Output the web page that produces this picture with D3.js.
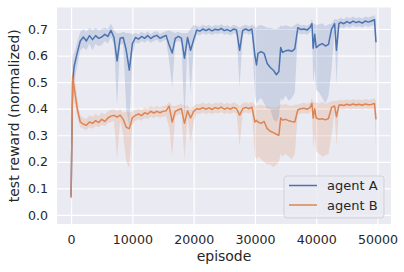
<!DOCTYPE html>
<html>
<head>
<meta charset="utf-8">
<script src="https://cdn.jsdelivr.net/npm/d3@7"></script>
<style>
  body { margin: 0; background: #fff; }
  svg { display: block; font-family: "DejaVu Sans", sans-serif; }
</style>
</head>
<body>
<svg id="chart" width="404" height="272"></svg>
<script>
// episodes at which the test reward was recorded
const episodes = [0, 250, 500, 1000, 1500, 2000, 2500, 3000, 3500, 4000, 4500, 5000, 5500, 6000, 6500, 7000, 7500, 8000, 8500, 9000,
  9500, 10000, 10500, 11000, 11500, 12000, 12500, 13000, 13500, 14000, 14500, 15000, 15500, 16000, 16500, 17000, 17500, 18000, 18500, 19000,
  19500, 20000, 20500, 21000, 21500, 22000, 22500, 23000, 23500, 24000, 24500, 25000, 25500, 26000, 26500, 27000, 27500, 28000, 28500, 29000,
  29500, 30000, 30250, 30500, 31000, 31500, 32000, 32500, 33000, 33500, 33900, 34200, 34500, 35000, 35500, 36000, 36500, 37000, 37500, 38000,
  38500, 39000, 39300, 39500, 39750, 40000, 40500, 41000, 41500, 42000, 42500, 43000, 43300, 43700, 44000, 44500, 45000, 45500, 46000, 46500,
  47000, 47500, 48000, 48500, 49000, 49500, 49750];

// agent A: mean and confidence band
const agentAMean = [0.07, 0.50, 0.56, 0.61, 0.655, 0.67, 0.655, 0.675, 0.66, 0.675, 0.665, 0.67, 0.68, 0.672, 0.695, 0.668, 0.58, 0.665, 0.668, 0.62,
  0.545, 0.645, 0.668, 0.662, 0.672, 0.665, 0.675, 0.664, 0.672, 0.676, 0.665, 0.671, 0.676, 0.64, 0.61, 0.665, 0.672, 0.666, 0.59, 0.668,
  0.62, 0.66, 0.696, 0.692, 0.70, 0.694, 0.70, 0.693, 0.699, 0.696, 0.702, 0.694, 0.698, 0.692, 0.70, 0.696, 0.62, 0.695, 0.70, 0.694,
  0.70, 0.60, 0.565, 0.608, 0.615, 0.608, 0.57, 0.555, 0.545, 0.528, 0.54, 0.63, 0.612, 0.618, 0.62, 0.616, 0.625, 0.705, 0.698, 0.70,
  0.696, 0.706, 0.72, 0.628, 0.68, 0.63, 0.64, 0.645, 0.636, 0.642, 0.70, 0.72, 0.62, 0.72, 0.725, 0.72, 0.728, 0.722, 0.73, 0.724,
  0.728, 0.722, 0.73, 0.726, 0.73, 0.735, 0.65];
const agentALow = [0.0, 0.40, 0.50, 0.56, 0.62, 0.63, 0.62, 0.645, 0.62, 0.645, 0.635, 0.64, 0.655, 0.645, 0.67, 0.64, 0.41, 0.64, 0.645, 0.40,
  0.33, 0.60, 0.65, 0.645, 0.655, 0.648, 0.658, 0.648, 0.655, 0.66, 0.648, 0.655, 0.66, 0.58, 0.48, 0.648, 0.655, 0.648, 0.36, 0.65,
  0.46, 0.63, 0.68, 0.676, 0.684, 0.678, 0.684, 0.677, 0.683, 0.68, 0.686, 0.678, 0.682, 0.676, 0.684, 0.68, 0.48, 0.678, 0.684, 0.678,
  0.684, 0.45, 0.42, 0.43, 0.44, 0.42, 0.40, 0.40, 0.36, 0.35, 0.37, 0.44, 0.43, 0.45, 0.43, 0.44, 0.46, 0.685, 0.68, 0.682,
  0.678, 0.688, 0.70, 0.50, 0.55, 0.47, 0.46, 0.44, 0.42, 0.45, 0.55, 0.70, 0.49, 0.70, 0.708, 0.703, 0.71, 0.705, 0.713, 0.707,
  0.71, 0.705, 0.712, 0.708, 0.712, 0.715, 0.49];
const agentAHigh = [0.14, 0.60, 0.61, 0.65, 0.69, 0.70, 0.69, 0.705, 0.695, 0.705, 0.695, 0.70, 0.705, 0.70, 0.72, 0.695, 0.685, 0.685, 0.69, 0.685,
  0.685, 0.68, 0.685, 0.68, 0.69, 0.682, 0.692, 0.68, 0.69, 0.692, 0.682, 0.688, 0.692, 0.695, 0.69, 0.685, 0.69, 0.684, 0.685, 0.685,
  0.70, 0.715, 0.712, 0.708, 0.716, 0.71, 0.716, 0.709, 0.715, 0.712, 0.718, 0.71, 0.714, 0.708, 0.716, 0.712, 0.705, 0.712, 0.716, 0.71,
  0.716, 0.71, 0.705, 0.712, 0.715, 0.71, 0.705, 0.705, 0.70, 0.70, 0.705, 0.712, 0.71, 0.714, 0.71, 0.708, 0.715, 0.722, 0.714, 0.716,
  0.712, 0.72, 0.738, 0.72, 0.72, 0.715, 0.718, 0.722, 0.71, 0.718, 0.72, 0.738, 0.735, 0.738, 0.742, 0.737, 0.745, 0.74, 0.747, 0.741,
  0.745, 0.739, 0.747, 0.743, 0.747, 0.752, 0.74];

// agent B: mean and confidence band
const agentBMean = [0.065, 0.52, 0.48, 0.40, 0.35, 0.342, 0.338, 0.35, 0.345, 0.355, 0.348, 0.36, 0.352, 0.365, 0.372, 0.375, 0.368, 0.376, 0.36, 0.33,
  0.325, 0.366, 0.375, 0.38, 0.374, 0.385, 0.38, 0.39, 0.384, 0.39, 0.385, 0.39, 0.392, 0.41, 0.35, 0.39, 0.396, 0.40, 0.345, 0.392,
  0.365, 0.39, 0.40, 0.398, 0.404, 0.398, 0.403, 0.397, 0.404, 0.40, 0.406, 0.398, 0.403, 0.398, 0.405, 0.40, 0.376, 0.40, 0.405, 0.40,
  0.406, 0.35, 0.356, 0.35, 0.345, 0.352, 0.325, 0.315, 0.31, 0.304, 0.30, 0.365, 0.357, 0.36, 0.355, 0.352, 0.35, 0.396, 0.40, 0.402,
  0.398, 0.404, 0.42, 0.365, 0.40, 0.365, 0.36, 0.362, 0.358, 0.363, 0.405, 0.41, 0.37, 0.413, 0.415, 0.412, 0.417, 0.413, 0.418, 0.414,
  0.417, 0.413, 0.418, 0.415, 0.416, 0.42, 0.36];
const agentBLow = [0.03, 0.46, 0.43, 0.37, 0.33, 0.325, 0.32, 0.33, 0.325, 0.335, 0.33, 0.34, 0.335, 0.345, 0.35, 0.355, 0.21, 0.355, 0.30, 0.20,
  0.18, 0.34, 0.355, 0.36, 0.355, 0.365, 0.36, 0.37, 0.365, 0.372, 0.366, 0.37, 0.372, 0.33, 0.22, 0.372, 0.378, 0.38, 0.21, 0.374,
  0.27, 0.35, 0.382, 0.38, 0.386, 0.38, 0.385, 0.38, 0.386, 0.382, 0.388, 0.38, 0.385, 0.38, 0.387, 0.382, 0.26, 0.382, 0.387, 0.382,
  0.388, 0.22, 0.21, 0.22, 0.21, 0.20, 0.19, 0.19, 0.18, 0.19, 0.20, 0.23, 0.22, 0.23, 0.22, 0.21, 0.23, 0.378, 0.382, 0.384,
  0.38, 0.386, 0.40, 0.25, 0.30, 0.24, 0.23, 0.22, 0.225, 0.23, 0.30, 0.39, 0.26, 0.395, 0.398, 0.395, 0.40, 0.396, 0.40, 0.397,
  0.40, 0.396, 0.40, 0.398, 0.398, 0.40, 0.25];
const agentBHigh = [0.12, 0.59, 0.54, 0.44, 0.375, 0.365, 0.362, 0.375, 0.37, 0.38, 0.372, 0.385, 0.378, 0.39, 0.395, 0.398, 0.39, 0.398, 0.385, 0.39,
  0.385, 0.39, 0.396, 0.40, 0.395, 0.405, 0.40, 0.41, 0.404, 0.41, 0.405, 0.41, 0.412, 0.425, 0.41, 0.41, 0.415, 0.42, 0.41, 0.412,
  0.40, 0.41, 0.42, 0.417, 0.423, 0.417, 0.422, 0.416, 0.423, 0.42, 0.425, 0.417, 0.422, 0.417, 0.424, 0.42, 0.41, 0.42, 0.424, 0.42,
  0.425, 0.415, 0.41, 0.412, 0.415, 0.41, 0.41, 0.405, 0.405, 0.405, 0.41, 0.418, 0.415, 0.418, 0.412, 0.41, 0.415, 0.416, 0.42, 0.422,
  0.418, 0.424, 0.44, 0.425, 0.425, 0.422, 0.42, 0.425, 0.418, 0.423, 0.428, 0.43, 0.43, 0.432, 0.434, 0.431, 0.436, 0.432, 0.437, 0.433,
  0.436, 0.432, 0.437, 0.434, 0.435, 0.44, 0.43];

const xTicks = [0, 10000, 20000, 30000, 40000, 50000];
const yTicks = [0.0, 0.1, 0.2, 0.3, 0.4, 0.5, 0.6, 0.7];
const seriesNames = ["agent A", "agent B"];
const seriesColors = ["#4c72b0", "#dd8452"];

const svg = d3.select("#chart");
const plot = { left: 57, right: 391, top: 7.5, bottom: 224 };

const x = d3.scaleLinear().domain([-2300, 52200]).range([plot.left, plot.right]);
const y = d3.scaleLinear().domain([-0.034, 0.781]).range([plot.bottom, plot.top]);

// background
svg.append("rect")
  .attr("x", plot.left).attr("y", plot.top)
  .attr("width", plot.right - plot.left).attr("height", plot.bottom - plot.top)
  .attr("fill", "#eaeaf2");

svg.append("clipPath").attr("id", "clip")
  .append("rect")
  .attr("x", plot.left).attr("y", plot.top)
  .attr("width", plot.right - plot.left).attr("height", plot.bottom - plot.top);

// grid
const xAxis = d3.axisBottom(x).tickValues(xTicks).tickSize(-(plot.bottom - plot.top)).tickPadding(11).tickFormat(d3.format("d"));
const yAxis = d3.axisLeft(y).tickValues(yTicks).tickSize(-(plot.right - plot.left)).tickPadding(9).tickFormat(d3.format(".1f"));

const gx = svg.append("g").attr("transform", `translate(0,${plot.bottom})`).call(xAxis);
const gy = svg.append("g").attr("transform", `translate(${plot.left},0)`).call(yAxis);
[gx, gy].forEach(g => {
  g.select(".domain").remove();
  g.selectAll(".tick line").attr("stroke", "#fff").attr("stroke-width", 1.2);
  g.selectAll(".tick text").attr("fill", "#262626").style("font-size", "12.6px").style("font-family", "DejaVu Sans");
});

// bands and lines
const rows = episodes.map((e, i) => ({
  e,
  a: [agentAMean[i], agentALow[i], agentAHigh[i]],
  b: [agentBMean[i], agentBLow[i], agentBHigh[i]]
}));

const layer = svg.append("g").attr("clip-path", "url(#clip)");
["a", "b"].forEach((k, si) => {
  const area = d3.area()
    .x(d => x(d.e))
    .y0(d => y(d[k][1]))
    .y1(d => y(d[k][2]));
  layer.append("path")
    .datum(rows)
    .attr("d", area)
    .attr("fill", seriesColors[si])
    .attr("fill-opacity", 0.2);
});
["a", "b"].forEach((k, si) => {
  const line = d3.line()
    .x(d => x(d.e))
    .y(d => y(d[k][0]));
  layer.append("path")
    .datum(rows)
    .attr("d", line)
    .attr("fill", "none")
    .attr("stroke", seriesColors[si])
    .attr("stroke-width", 1.5)
    .attr("stroke-linejoin", "round");
});

// axis labels
svg.append("text")
  .attr("x", (plot.left + plot.right) / 2).attr("y", 261)
  .attr("text-anchor", "middle")
  .attr("fill", "#262626")
  .style("font-size", "14px")
  .text("episode");

svg.append("text")
  .attr("transform", `translate(19,${(plot.top + plot.bottom) / 2}) rotate(-90)`)
  .attr("text-anchor", "middle")
  .attr("fill", "#262626")
  .style("font-size", "14px")
  .text("test reward (normalized)");

// legend
const legend = svg.append("g");
legend.append("rect")
  .attr("x", 284).attr("y", 176).attr("width", 100).attr("height", 42)
  .attr("rx", 3)
  .attr("fill", "#eaeaf2").attr("fill-opacity", 0.8)
  .attr("stroke", "#cccccc").attr("stroke-opacity", 0.8);
seriesNames.forEach((name, i) => {
  const ly = 185.5 + i * 19.5;
  legend.append("line")
    .attr("x1", 289).attr("x2", 317).attr("y1", ly).attr("y2", ly)
    .attr("stroke", seriesColors[i]).attr("stroke-width", 1.5);
  legend.append("text")
    .attr("x", 327).attr("y", ly + 4.7)
    .attr("fill", "#262626")
    .style("font-size", "13px")
    .text(name);
});
</script>
</body>
</html>
